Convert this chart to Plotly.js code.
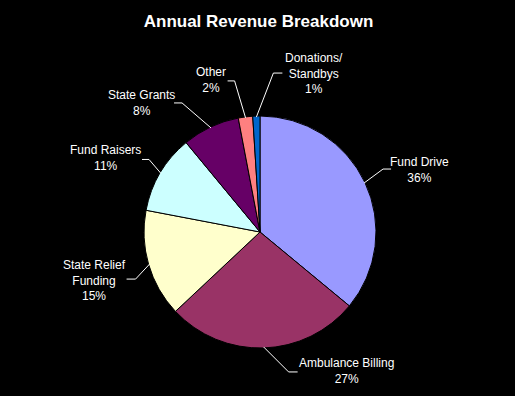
<!DOCTYPE html>
<html>
<head>
<meta charset="utf-8">
<script src="https://cdn.plot.ly/plotly-3.0.1.min.js"></script>
<style>html,body{margin:0;padding:0;background:#000;}#chart{width:515px;height:396px;}</style>
</head>
<body>
<div id="chart"></div>
<script>
const categories = ["Fund Drive", "Ambulance Billing", "State Relief Funding", "Fund Raisers", "State Grants", "Other", "Donations/ Standbys"];
const labelText = ["Fund Drive", "Ambulance Billing", "State Relief<br>Funding", "Fund Raisers", "State Grants", "Other", "Donations/<br>Standbys"];
const values = [36, 27, 15, 11, 8, 2, 1];
const colors = ["#9999FF", "#993366", "#FFFFCC", "#CCFFFF", "#660066", "#FF8080", "#0066CC"];
// label placement (pixels, relative to slice edge point)
const labelDx = [55, 83, -55, -56, -70, -35, 58];
const labelDy = [-13, 24, 16, -15, -25, -38, -44];
const elbowDx = [19, 25, -14, -12, -29, -11, 17];
const elbowDy = [-14, 25, 15, -14, -25, -37, -44];
const tailDx  = [8, 9, -9, -7, -8, -7, 9];

const W = 515, H = 396;
const cxPx = 260, cyPx = 232, rPx = 116;
const fx = x => x / W, fy = y => 1 - y / H;

const total = values.reduce((a, b) => a + b, 0);
let cum = 0;
const annotations = [], shapes = [];
values.forEach((v, i) => {
  const mid = (cum + v / 2) / total * 2 * Math.PI;
  cum += v;
  const px = cxPx + (rPx - 1) * Math.sin(mid);
  const py = cyPx - (rPx - 1) * Math.cos(mid);
  const pct = Math.round(v / total * 100) + "%";
  const ex = px + elbowDx[i], ey = py + elbowDy[i];
  shapes.push({
    type: "path", xref: "paper", yref: "paper",
    path: `M${fx(px)},${fy(py)} L${fx(ex)},${fy(ey)} L${fx(ex + tailDx[i])},${fy(ey)}`,
    line: {color: "#FFFFFF", width: 1}
  });
  annotations.push({
    x: fx(px + labelDx[i]), y: fy(py + labelDy[i]), xref: "paper", yref: "paper",
    xanchor: "center", yanchor: "middle",
    text: labelText[i] + "<br>" + pct,
    showarrow: false,
    font: {family: "Liberation Sans, Arial, sans-serif", size: 12, color: "#FFFFFF"},
    align: "center"
  });
});

const data = [{
  type: "pie",
  labels: categories,
  values: values,
  marker: {colors: colors, line: {color: "#000000", width: 1}},
  sort: false,
  direction: "clockwise",
  rotation: 0,
  textinfo: "none",
  hoverinfo: "label+percent",
  showlegend: false,
  domain: {x: [(cxPx - rPx) / W, (cxPx + rPx) / W], y: [1 - (cyPx + rPx) / H, 1 - (cyPx - rPx) / H]}
}];

const layout = {
  width: W, height: H,
  margin: {l: 0, r: 0, t: 0, b: 0},
  paper_bgcolor: "#000000",
  plot_bgcolor: "#000000",
  title: {text: "<b>Annual Revenue Breakdown</b>", x: 0.502, xanchor: "center", y: 1 - 21 / H, yanchor: "middle",
          font: {family: "Liberation Sans, Arial, sans-serif", size: 17, color: "#FFFFFF"}},
  annotations: annotations,
  shapes: shapes,
  showlegend: false
};

Plotly.newPlot("chart", data, layout, {displayModeBar: false, staticPlot: true});
</script>
</body>
</html>
